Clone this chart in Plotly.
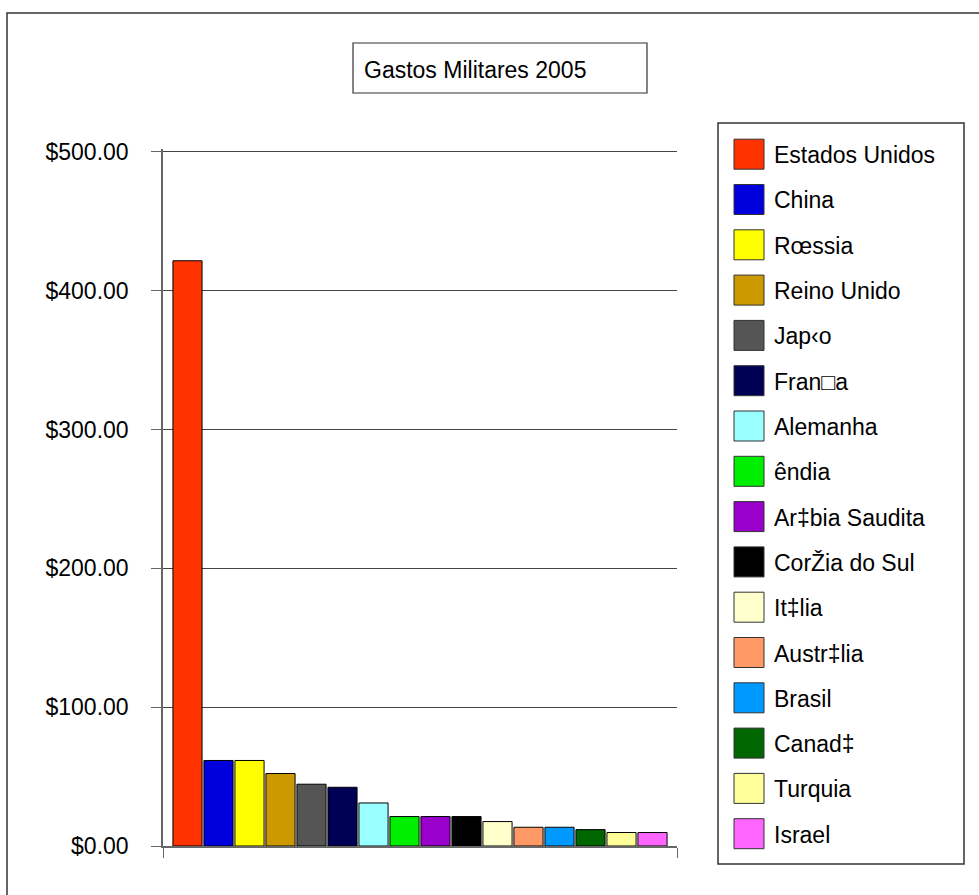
import plotly.graph_objects as go

countries = ["Estados Unidos", "China", "Rœssia", "Reino Unido", "Jap‹o", "Fran□a",
             "Alemanha", "êndia", "Ar‡bia Saudita", "CorŽia do Sul", "It‡lia",
             "Austr‡lia", "Brasil", "Canad‡", "Turquia", "Israel"]
spending = [421.5, 61.6, 61.6, 52.2, 44.5, 42.3, 31.0, 21.2, 21.2, 21.2, 17.6,
            13.5, 13.5, 11.8, 9.7, 9.7]
colors = ["#FF3300", "#0000DD", "#FFFF00", "#CC9900", "#555555", "#000055",
          "#99FFFF", "#00EE00", "#9900CC", "#000000", "#FFFFCC",
          "#FF9966", "#0099FF", "#006600", "#FFFF99", "#FF66FF"]
y_ticks = [0, 100, 200, 300, 400, 500]
y_tick_labels = ["$%.2f" % v for v in y_ticks]
title_text = "Gastos Militares 2005"

W, H = 979, 895
L, R, T, B = 163, 302, 149, 49
PW, PH = W - L - R, H - T - B


def px(x):
    return (x - L) / PW


def py(y):
    return (H - B - y) / PH


FONT = "Liberation Sans, Arial, sans-serif"
FS = 23

fig = go.Figure()
for name, val, col in zip(countries, spending, colors):
    fig.add_trace(go.Bar(x=["2005"], y=[val], name=name, showlegend=False,
                         marker=dict(color=col, line=dict(color="black", width=1))))

shapes = []
annotations = []

# outer frame
shapes.append(dict(type="rect", xref="paper", yref="paper",
                   x0=px(7), x1=px(1000), y0=py(920), y1=py(13),
                   line=dict(color="#333333", width=1.5), layer="below"))
# title box
shapes.append(dict(type="rect", xref="paper", yref="paper",
                   x0=px(353), x1=px(647), y0=py(93), y1=py(43),
                   line=dict(color="#333333", width=1.2)))
annotations.append(dict(xref="paper", yref="paper", x=px(362), y=py(70),
                        xanchor="left", yanchor="middle", showarrow=False,
                        text=title_text, font=dict(family=FONT, size=FS, color="black")))
# legend box
shapes.append(dict(type="rect", xref="paper", yref="paper",
                   x0=px(718), x1=px(964), y0=py(864), y1=py(123),
                   line=dict(color="#333333", width=1.5)))
for i, (name, col) in enumerate(zip(countries, colors)):
    cy = 154.2 + i * 45.3
    shapes.append(dict(type="rect", xref="paper", yref="paper",
                       x0=px(734), x1=px(764), y0=py(cy + 15), y1=py(cy - 15),
                       fillcolor=col, line=dict(color="#333333", width=1)))
    annotations.append(dict(xref="paper", yref="paper", x=px(772), y=py(cy + 1),
                            xanchor="left", yanchor="middle", showarrow=False,
                            text=name, font=dict(family=FONT, size=FS, color="black")))

fig.update_layout(
    width=W, height=H,
    margin=dict(l=L, r=R, t=T, b=B, pad=0),
    paper_bgcolor="white", plot_bgcolor="white",
    barmode="group", bargap=0.035, bargroupgap=0.06,
    font=dict(family=FONT, size=FS, color="black"),
    shapes=shapes, annotations=annotations,
    xaxis=dict(showticklabels=False, showline=True, linecolor="#666666", linewidth=1.5,
               ticks="outside", ticklen=10, tickcolor="#666666", tickson="boundaries",
               showgrid=False, zeroline=False, fixedrange=True),
    yaxis=dict(range=[0, 502], tickmode="array", tickvals=y_ticks, ticktext=y_tick_labels,
               showgrid=True, gridcolor="#444444", gridwidth=1,
               showline=True, linecolor="#666666", linewidth=1.5,
               ticks="outside", ticklen=10, tickcolor="#666666",
               ticklabelstandoff=18, zeroline=False,
               tickfont=dict(family=FONT, size=FS, color="black")),
)

fig.write_html("out.html")
